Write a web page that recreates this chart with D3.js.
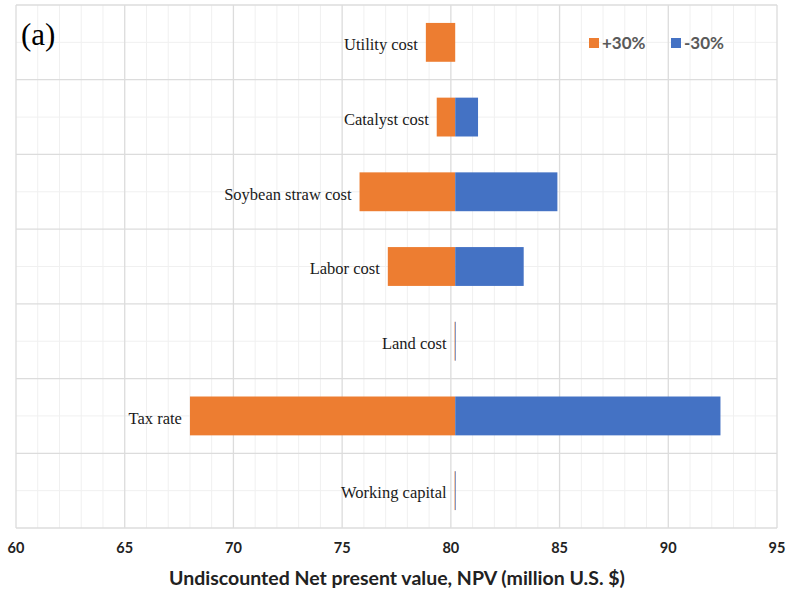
<!DOCTYPE html>
<html>
<head>
<meta charset="utf-8">
<script src="https://cdn.jsdelivr.net/npm/d3@7"></script>
<style>
  body { margin: 0; background: #fff; }
  .tick-label { font-family: Lato, "Open Sans", sans-serif; font-weight: 700; font-size: 14.5px; fill: #222; }
  .cat-label { font-family: "Liberation Serif", "Times New Roman", serif; font-size: 16.5px; fill: #1a1a1a; }
  .legend-text { font-family: Lato, "Open Sans", sans-serif; font-weight: 700; font-size: 17px; fill: #595959; }
</style>
</head>
<body>
<svg id="chart"></svg>
<script>
// categories top to bottom
const categories = ["Utility cost", "Catalyst cost", "Soybean straw cost", "Labor  cost", "Land cost", "Tax rate", "Working capital"];
// NPV when parameter is +30% and -30% (million U.S. $)
const plus30 = [78.85, 79.35, 75.8, 77.1, 80.17, 68.0, 80.17];
const minus30 = [80.2, 81.25, 84.9, 83.35, 80.23, 92.4, 80.23];
const baseNPV = 80.2;
const xTicks = [60, 65, 70, 75, 80, 85, 90, 95];
const seriesNames = ["+30%", "-30%"];
const colors = ["#ed7d31", "#4472c4"];

const W = 787, H = 591;
const margin = {top: 5, right: 10, bottom: 63, left: 16};
const width = 777 - margin.left;
const height = 528 - margin.top;

const svg = d3.select("#chart").attr("width", W).attr("height", H);
const chart = svg.append("g").attr("transform", `translate(${margin.left},${margin.top})`);

const x = d3.scaleLinear().domain([60, 95]).range([0, width]);
const y = d3.scaleBand().domain(categories).range([0, height]).paddingInner(0.48).paddingOuter(0.24);
const yb = d3.scaleBand().domain(categories).range([0, height]);

// minor vertical gridlines
chart.append("g").selectAll("line")
    .data(d3.range(60, 96, 1).filter(v => v % 5 !== 0))
  .enter().append("line")
    .attr("x1", d => x(d)).attr("x2", d => x(d))
    .attr("y1", 0).attr("y2", height)
    .attr("stroke", "#f0f0f0").attr("stroke-width", 1);

// minor horizontal gridlines at category centres
chart.append("g").selectAll("line")
    .data(categories)
  .enter().append("line")
    .attr("x1", 0).attr("x2", width)
    .attr("y1", d => yb(d) + yb.bandwidth() / 2).attr("y2", d => yb(d) + yb.bandwidth() / 2)
    .attr("stroke", "#f0f0f0").attr("stroke-width", 1);

// major vertical gridlines
chart.append("g").selectAll("line")
    .data(xTicks)
  .enter().append("line")
    .attr("x1", d => x(d)).attr("x2", d => x(d))
    .attr("y1", 0).attr("y2", height)
    .attr("stroke", "#dcdcdc").attr("stroke-width", 1.3);

// major horizontal gridlines between categories
chart.append("g").selectAll("line")
    .data(categories.map(c => yb(c)).concat([height]))
  .enter().append("line")
    .attr("x1", 0).attr("x2", width)
    .attr("y1", d => d).attr("y2", d => d)
    .attr("stroke", "#dcdcdc").attr("stroke-width", 1.3);

// bars
const rows = categories.map((c, i) => ({cat: c, plus: plus30[i], minus: minus30[i]}));

chart.selectAll(".bar-plus")
    .data(rows)
  .enter().append("rect")
    .attr("class", "bar-plus")
    .attr("x", d => x(Math.min(d.plus, baseNPV)))
    .attr("width", d => Math.abs(x(baseNPV) - x(d.plus)))
    .attr("y", d => y(d.cat))
    .attr("height", y.bandwidth())
    .attr("fill", colors[0]);

chart.selectAll(".bar-minus")
    .data(rows)
  .enter().append("rect")
    .attr("class", "bar-minus")
    .attr("x", d => x(Math.min(d.minus, baseNPV)))
    .attr("width", d => Math.abs(x(d.minus) - x(baseNPV)))
    .attr("y", d => y(d.cat))
    .attr("height", y.bandwidth())
    .attr("fill", colors[1]);

// category labels just left of each bar
chart.selectAll(".cat-label")
    .data(rows)
  .enter().append("text")
    .attr("class", "cat-label")
    .attr("x", d => x(Math.min(d.plus, d.minus)) - 8)
    .attr("y", d => y(d.cat) + y.bandwidth() / 2 + 2)
    .attr("dy", "0.35em")
    .attr("text-anchor", "end")
    .text(d => d.cat);

// x axis tick labels
chart.selectAll(".tick-label")
    .data(xTicks)
  .enter().append("text")
    .attr("class", "tick-label")
    .attr("x", d => x(d))
    .attr("y", height + 25)
    .attr("text-anchor", "middle")
    .text(d => d);

// axis title
svg.append("text")
    .attr("x", 397)
    .attr("y", 585)
    .attr("text-anchor", "middle")
    .style("font-family", "Lato, 'Open Sans', sans-serif")
    .style("font-weight", 700)
    .style("font-size", "19.5px")
    .style("fill", "#222")
    .text("Undiscounted Net present value, NPV (million U.S. $)");

// panel label
svg.append("text")
    .attr("x", 21)
    .attr("y", 45)
    .style("font-family", "'Liberation Serif', 'Times New Roman', serif")
    .style("font-size", "31px")
    .style("fill", "#000")
    .text("(a)");

// legend
const legend = svg.append("g").attr("transform", "translate(589,38)");
const items = legend.selectAll("g")
    .data(seriesNames)
  .enter().append("g")
    .attr("transform", (d, i) => `translate(${i * 82},0)`);
items.append("rect")
    .attr("width", 10).attr("height", 10)
    .attr("fill", (d, i) => colors[i]);
items.append("text")
    .attr("class", "legend-text")
    .attr("x", 13).attr("y", 5)
    .attr("dy", "0.36em")
    .text(d => d);
</script>
</body>
</html>
